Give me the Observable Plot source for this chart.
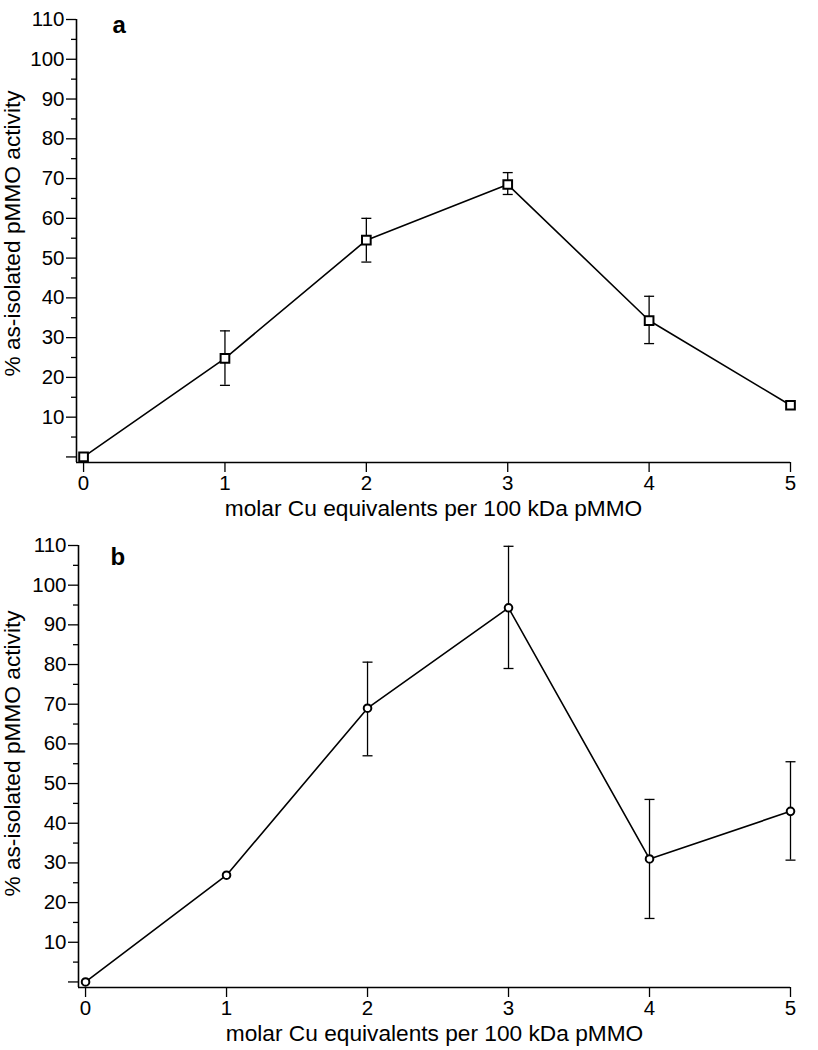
<!DOCTYPE html>
<html>
<head>
<meta charset="utf-8">
<script src="https://cdn.jsdelivr.net/npm/d3@7"></script>
<script src="https://cdn.jsdelivr.net/npm/@observablehq/plot@0.6"></script>
<style>
  html, body { margin: 0; padding: 0; background: #fff; }
  #chart svg { display: block; }
  #chart [aria-label$="tick label"] { font-size: 20.5px !important; }
  #chart [aria-label$="axis label"] { font-size: 22.7px !important; }
</style>
</head>
<body>
<div id="chart"></div>
<script>
// ---- data ----
const cuEquiv = [0, 1, 2, 3, 4, 5];

const activityA = [0, 24.8, 54.5, 68.5, 34.3, 13.0];
const errLowA   = [null, 18.0, 49.0, 66.0, 28.5, null];
const errHighA  = [null, 31.7, 60.0, 71.5, 40.4, null];

const activityB = [0, 26.9, 69.0, 94.3, 31.0, 43.0];
const errLowB   = [null, null, 57.0, 79.0, 16.0, 30.7];
const errHighB  = [null, null, 80.6, 109.8, 46.0, 55.5];

const panelLabels = ["a", "b"];
const xTicks = [0, 1, 2, 3, 4, 5];
const yMajorTicks = [0, 10, 20, 30, 40, 50, 60, 70, 80, 90, 100, 110];
const yMinorTicks = [5, 15, 25, 35, 45, 55, 65, 75, 85, 95, 105];
const xLabel = "molar Cu equivalents per 100 kDa pMMO";
const yLabel = "% as-isolated pMMO activity";

const xDomain = [-0.05, 5];
const yDomain = [-1.4, 110];

// horizontal cap symbol for error bars
const capSymbol = {
  draw(context, size) {
    const w = Math.sqrt(size / Math.PI);
    context.moveTo(-w, 0);
    context.lineTo(w, 0);
  }
};

function makeRows(ys, lo, hi) {
  return cuEquiv.map((x, i) => ({x, y: ys[i], lo: lo[i], hi: hi[i]}));
}

function panel(label, rows, symbol, r, opts) {
  const errRows = rows.filter(d => d.lo != null);
  return Plot.plot({
    width: 818,
    height: 525,
    marginTop: opts.marginTop,
    marginBottom: 63,
    marginLeft: opts.marginLeft,
    marginRight: 28,
    style: {fontFamily: "'Liberation Sans', Arial, sans-serif", fontSize: "20.5px", color: "#000", background: "#fff"},
    x: {domain: xDomain},
    y: {domain: yDomain},
    marks: [
      // axis lines
      Plot.ruleY([yDomain[0]], {stroke: "#000", strokeWidth: 1.6}),
      Plot.ruleX([xDomain[0]], {stroke: "#000", strokeWidth: 1.6}),
      // y axis: major ticks with labels
      Plot.axisY({
        ticks: yMajorTicks, tickSize: 10, tickPadding: 2, strokeWidth: 1.3,
        tickFormat: d => d === 0 ? "" : String(d),
        label: null
      }),
      // y axis: minor ticks
      Plot.axisY({ticks: yMinorTicks, tickSize: 5, strokeWidth: 1.3, tickFormat: () => "", label: null}),
      // y axis title
      Plot.text([yLabel], {
        text: d => d, frameAnchor: "left", rotate: -90, textAnchor: "middle", lineAnchor: "middle",
        dx: -opts.marginLeft + 12, dy: opts.yLabelShift, fontSize: 22.7
      }),
      // x axis
      Plot.axisX({
        ticks: xTicks, tickSize: 10, tickPadding: 3, strokeWidth: 1.3,
        tickFormat: d => String(d),
        label: xLabel, labelAnchor: "center", labelArrow: "none", labelOffset: 53
      }),
      // error bars
      Plot.ruleX(errRows, {x: "x", y1: "lo", y2: "hi", stroke: "#000", strokeWidth: 1.3}),
      Plot.dot(errRows, {x: "x", y: "lo", symbol: capSymbol, r: 5, stroke: "#000", strokeWidth: 1.3, fill: "none"}),
      Plot.dot(errRows, {x: "x", y: "hi", symbol: capSymbol, r: 5, stroke: "#000", strokeWidth: 1.3, fill: "none"}),
      // connecting line
      Plot.line(rows, {x: "x", y: "y", stroke: "#000", strokeWidth: 1.6}),
      // markers
      Plot.dot(rows, {x: "x", y: "y", symbol, r, fill: "#fff", stroke: "#000", strokeWidth: 2}),
      // panel label
      Plot.text([label], {
        text: d => d, frameAnchor: "top-left", dx: opts.labelDx, dy: opts.labelDy,
        textAnchor: "start", lineAnchor: "middle", fontSize: 24, fontWeight: "bold"
      })
    ]
  });
}

const chart = document.getElementById("chart");
chart.appendChild(panel(panelLabels[0], makeRows(activityA, errLowA, errHighA), "square", 4.9,
  {marginTop: 19, marginLeft: 76, yLabelShift: -7.5, labelDx: 36, labelDy: 5.5}));
chart.appendChild(panel(panelLabels[1], makeRows(activityB, errLowB, errHighB), "circle", 3.8,
  {marginTop: 20, marginLeft: 78, yLabelShift: -13, labelDx: 32, labelDy: 11.5}));
</script>
</body>
</html>
